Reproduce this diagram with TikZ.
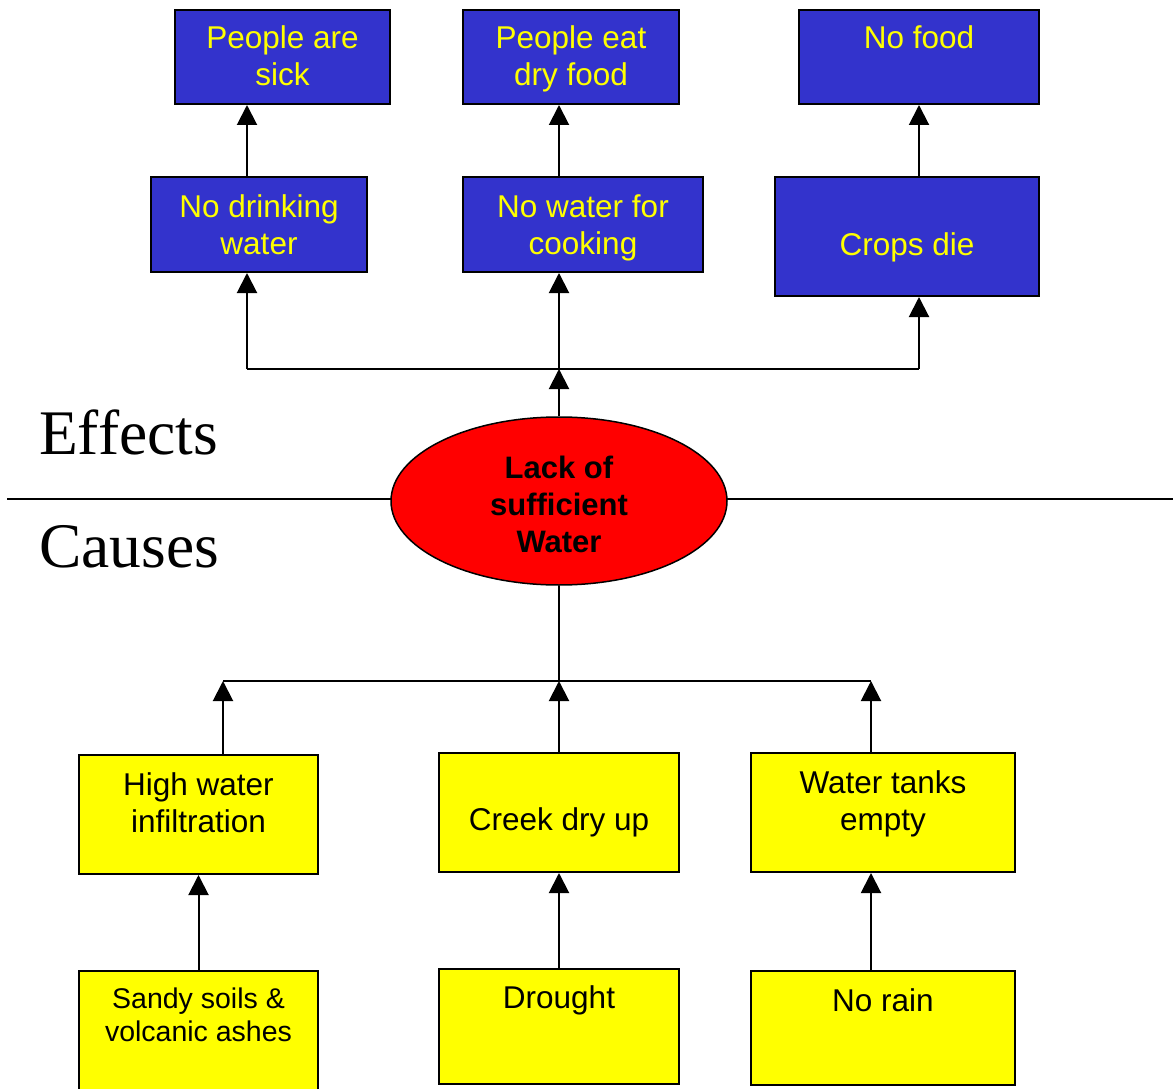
\documentclass[tikz,border=0pt]{standalone}
\usepackage{fontspec}
\setmainfont{Liberation Sans}
\newfontfamily\headfont{Liberation Serif}
\usetikzlibrary{arrows.meta,shapes.geometric}
\definecolor{effblue}{HTML}{3333CC}
\definecolor{efftext}{HTML}{FFFF00}
\definecolor{causefill}{HTML}{FFFF00}
\definecolor{corered}{HTML}{FF0000}

\begin{document}
\begin{tikzpicture}[x=1pt,y=-1pt,
  box/.style={draw=black, line width=2pt, inner sep=0pt},
  effbox/.style={box, fill=effblue},
  causebox/.style={box, fill=causefill},
  % text nodes are placed by the baseline of their last line
  boxtxt/.style={align=center, anchor=base, inner sep=0pt, font=\fontsize{31.5}{37}\selectfont},
  efftxt/.style={boxtxt, text=efftext},
  causetxt/.style={boxtxt, text=black},
  smalltxt/.style={causetxt, font=\fontsize{28.5}{33}\selectfont},
  heading/.style={anchor=base west, inner sep=0pt, font=\headfont\fontsize{63.5}{70}\selectfont},
  link/.style={line width=2pt},
  arr/.style={link, -{Triangle[width=20pt,length=20pt]}},
]
\useasboundingbox (0,0) rectangle (1173,1089);

% divider between effects and causes
\coordinate (dL) at (7,499);
\coordinate (dR) at (1173,499);
\draw[link] (dL) -- (dR);

% headings
\node[heading] (effects) at (39,454) {Effects};
\node[heading] (causes) at (39,567) {Causes};

% central problem
\node[ellipse, draw=black, line width=1.5pt, fill=corered, minimum width=336pt,
      minimum height=168pt, inner sep=0pt] (core) at (559,501) {};
\node[boxtxt, font=\bfseries\fontsize{31}{37}\selectfont] (coret) at (559,552)
      {Lack of\\sufficient\\Water};

% effects boxes
\node[effbox, minimum width=215pt, minimum height=94pt] (a1) at (282.5,57) {};
\node[effbox, minimum width=216pt, minimum height=94pt] (a2) at (571,57) {};
\node[effbox, minimum width=240pt, minimum height=94pt] (a3) at (919,57) {};
\node[effbox, minimum width=216pt, minimum height=95pt] (b1) at (259,224.5) {};
\node[effbox, minimum width=240pt, minimum height=95pt] (b2) at (583,224.5) {};
\node[effbox, minimum width=264pt, minimum height=119pt] (b3) at (907,236.5) {};

\node[efftxt] (a1t) at (282.5,86) {People are\\sick};
\node[efftxt] (a2t) at (571,86) {People eat\\dry food};
\node[efftxt] (a3t) at (919,49) {No food};
\node[efftxt] (b1t) at (259,254) {No drinking\\water};
\node[efftxt] (b2t) at (583,254) {No water for\\cooking};
\node[efftxt] (b3t) at (907,255) {Crops die};

% causes boxes
\node[causebox, minimum width=239pt, minimum height=119pt] (c1) at (198.5,814.5) {};
\node[causebox, minimum width=240pt, minimum height=119pt] (c2) at (559,812.5) {};
\node[causebox, minimum width=264pt, minimum height=119pt] (c3) at (883,812.5) {};
\node[causebox, minimum width=239pt, minimum height=129pt] (d1) at (198.5,1035.5) {};
\node[causebox, minimum width=240pt, minimum height=115pt] (d2) at (559,1026.5) {};
\node[causebox, minimum width=264pt, minimum height=114pt] (d3) at (883,1028) {};

\node[causetxt] (c1t) at (198.5,832) {High water\\infiltration};
\node[causetxt] (c2t) at (559,830) {Creek dry up};
\node[causetxt] (c3t) at (883,830) {Water tanks\\empty};
\node[smalltxt] (d1t) at (198.5,1041) {Sandy soils \&\\volcanic ashes};
\node[causetxt] (d2t) at (559,1008) {Drought};
\node[causetxt] (d3t) at (883,1011) {No rain};

% effects tree
\coordinate (jE) at (559,369);
\coordinate (jEL) at (247,369);
\coordinate (jER) at (919,369);
\draw[arr] (core.north) -- (jE);
\draw[link] (jEL) -- (jER);
\draw[arr] (jEL) -- (jEL |- b1.south);
\draw[arr] (jE) -- (jE |- b2.south);
\draw[arr] (jER) -- (jER |- b3.south);
\draw[arr] (jEL |- b1.north) -- (jEL |- a1.south);
\draw[arr] (jE |- b2.north) -- (jE |- a2.south);
\draw[arr] (jER |- b3.north) -- (jER |- a3.south);

% causes tree
\coordinate (jC) at (559,681);
\coordinate (jCL) at (223,681);
\coordinate (jCR) at (871,681);
\draw[link] (core.south) -- (jC);
\draw[link] (jCL) -- (jCR);
\draw[arr] (jCL |- c1.north) -- (jCL);
\draw[arr] (c2.north) -- (jC);
\draw[arr] (jCR |- c3.north) -- (jCR);
\draw[arr] (d1.north) -- (c1.south);
\draw[arr] (d2.north) -- (c2.south);
\draw[arr] (jCR |- d3.north) -- (jCR |- c3.south);
\end{tikzpicture}
\end{document}
